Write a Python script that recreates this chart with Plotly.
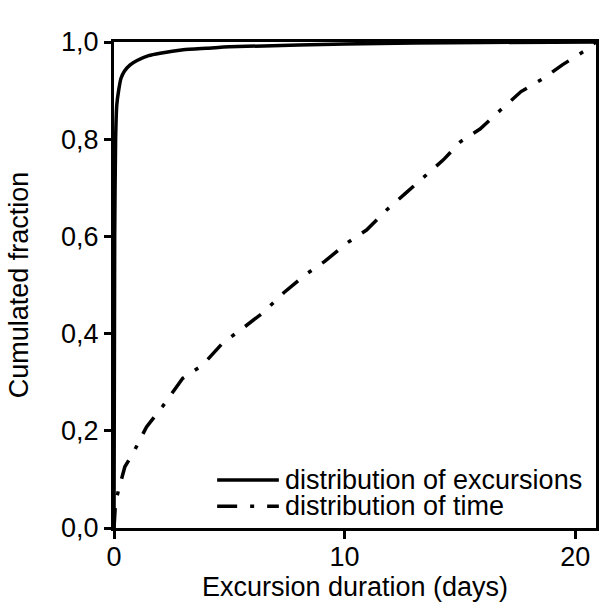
import plotly.graph_objects as go

# ---- data ----
exc_x = [0.0, 0.03, 0.07, 0.12, 0.2, 0.3, 0.45, 0.7, 1.0, 1.5, 2.0, 3.0, 4.0, 5.0, 6.5, 8.0, 10.0, 13.0, 16.0, 20.9]
exc_y = [0.0, 0.60, 0.80, 0.87, 0.90, 0.925, 0.94, 0.953, 0.962, 0.972, 0.977, 0.984, 0.987, 0.990, 0.992, 0.994, 0.996, 0.998, 0.999, 1.0]

time_x = [0.0, 0.05, 0.12, 0.47, 0.86, 1.41, 2.12, 2.98, 3.84, 4.7, 5.64, 6.43, 7.36, 8.29, 9.15, 10.09,
          10.95, 11.81, 12.6, 13.46, 14.27, 15.03, 15.87, 16.76, 17.65, 18.62, 19.44, 20.35, 20.9]
time_y = [0.0, 0.04, 0.064, 0.126, 0.157, 0.208, 0.251, 0.308, 0.335, 0.38, 0.413, 0.442, 0.484, 0.521, 0.549, 0.586,
          0.613, 0.654, 0.687, 0.724, 0.757, 0.795, 0.821, 0.86, 0.898, 0.925, 0.953, 0.98, 1.0]

series_names = ["distribution of excursions", "distribution of time"]
x_ticks = [0, 10, 20]
y_ticks = [0.0, 0.2, 0.4, 0.6, 0.8, 1.0]

FONT = "Liberation Sans, Arial, sans-serif"
FS = 27
DASHDOT = "20px,13px,4px,13px"

fig = go.Figure()
fig.add_trace(go.Scatter(x=exc_x, y=exc_y, mode="lines", name=series_names[0],
                         line=dict(color="black", width=3.5, shape="spline", smoothing=0.5),
                         showlegend=False))
fig.add_trace(go.Scatter(x=time_x, y=time_y, mode="lines", name=series_names[1],
                         line=dict(color="black", width=3.5, dash=DASHDOT),
                         showlegend=False))

# manual legend (tight line spacing as in the reference)
leg_y = [0.099, 0.045]
leg_dash = ["solid", DASHDOT]
for name, yy, dsh in zip(series_names, leg_y, leg_dash):
    fig.add_shape(type="line", xref="paper", yref="paper", x0=0.214, x1=0.342, y0=yy, y1=yy,
                  line=dict(color="black", width=3.5, dash=dsh))
    fig.add_annotation(text=name, xref="paper", yref="paper", x=0.35, y=yy, xanchor="left",
                       yanchor="middle", showarrow=False, font=dict(family=FONT, size=FS, color="black"))

fig.update_layout(
    width=605, height=605,
    margin=dict(l=114, r=6, t=42, b=77),
    paper_bgcolor="white", plot_bgcolor="white",
    separators=", ",
    font=dict(family=FONT, size=FS, color="black"),
    xaxis=dict(range=[0, 20.9], tickvals=x_ticks, tickformat="d", ticks="outside", ticklen=8, tickwidth=2.5,
               tickcolor="black", showline=True, linecolor="black", linewidth=3, mirror=True,
               showgrid=False, zeroline=False, ticklabelstandoff=-5,
               title=dict(text="Excursion duration (days)", standoff=4, font=dict(size=FS))),
    yaxis=dict(range=[0, 1.0], tickvals=y_ticks, tickformat=".1f", ticks="outside", ticklen=7, tickwidth=2.5,
               tickcolor="black", showline=True, linecolor="black", linewidth=3, mirror=True,
               showgrid=False, zeroline=False,
               title=dict(text="Cumulated fraction", standoff=25, font=dict(size=FS))),
)

fig.write_html("out.html", config={"displayModeBar": False},
               post_script="document.body.style.margin='0';")
